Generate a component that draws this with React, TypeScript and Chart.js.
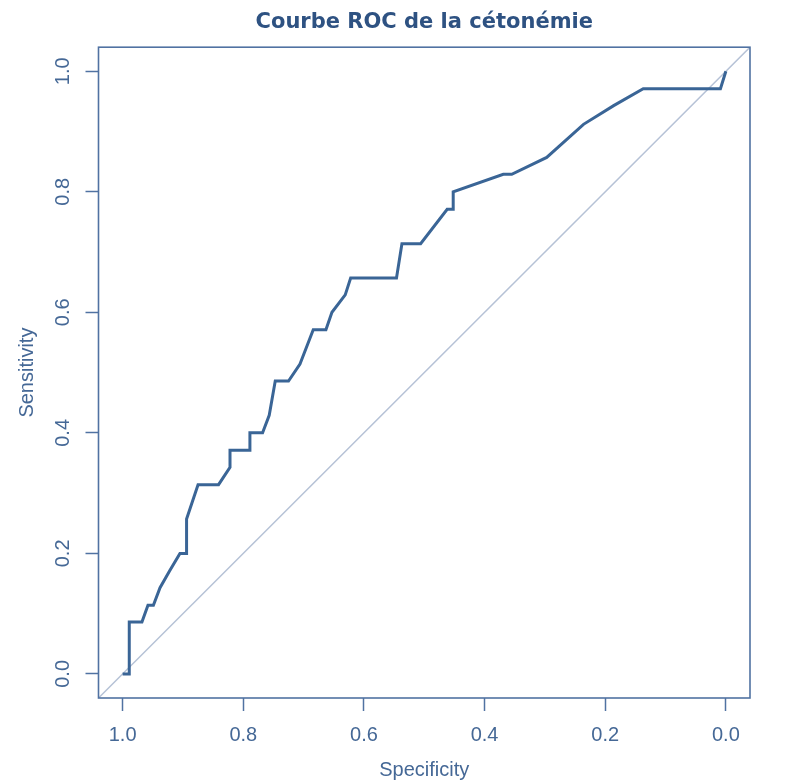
import React, { useEffect, useRef } from "react";
import { Chart, registerables } from "chart.js";

Chart.register(...registerables);

const TITLE = "Courbe ROC de la cétonémie";
const X_LABEL = "Specificity";
const Y_LABEL = "Sensitivity";
const TICKS = [0, 0.2, 0.4, 0.6, 0.8, 1.0];
const AXIS_MIN = -0.04;
const AXIS_MAX = 1.04;

const SPECIFICITY = [
  1.0, 0.989, 0.989, 0.968, 0.958, 0.949, 0.938, 0.922, 0.905, 0.894, 0.894,
  0.875, 0.841, 0.822, 0.822, 0.789, 0.789, 0.768, 0.757, 0.747, 0.725, 0.706,
  0.684, 0.663, 0.653, 0.631, 0.622, 0.546, 0.537, 0.506, 0.462, 0.452, 0.452,
  0.369, 0.355, 0.297, 0.236, 0.186, 0.137, 0.009, 0.0,
];
const SENSITIVITY = [
  0.0, 0.0, 0.086, 0.086, 0.114, 0.114, 0.143, 0.171, 0.2, 0.2, 0.257,
  0.314, 0.314, 0.343, 0.371, 0.371, 0.4, 0.4, 0.429, 0.486, 0.486, 0.514,
  0.571, 0.571, 0.6, 0.629, 0.657, 0.657, 0.714, 0.714, 0.771, 0.771, 0.8,
  0.829, 0.829, 0.857, 0.912, 0.943, 0.971, 0.971, 1.0,
];
const DIAG_SPEC = [1.1, -0.1];
const DIAG_SENS = [-0.1, 1.1];

const CURVE_COLOR = "#3a6596";
const DIAG_COLOR = "#b6c2d6";
const BOX_COLOR = "#5072a2";
const TEXT_COLOR = "#456896";
const TITLE_COLOR = "#2e5282";

const boxAndYLabels = {
  id: "boxAndYLabels",
  afterDatasetsDraw(chart: any) {
    const { ctx, chartArea } = chart;
    ctx.save();
    ctx.strokeStyle = BOX_COLOR;
    ctx.lineWidth = 1.6;
    ctx.strokeRect(
      chartArea.left,
      chartArea.top,
      chartArea.right - chartArea.left,
      chartArea.bottom - chartArea.top
    );
    ctx.restore();
  },
  afterDraw(chart: any) {
    const { ctx } = chart;
    const y = chart.scales.y;
    ctx.save();
    ctx.fillStyle = TEXT_COLOR;
    ctx.font = '20px "Liberation Sans", Arial, sans-serif';
    ctx.textAlign = "center";
    ctx.textBaseline = "middle";
    TICKS.forEach((v) => {
      const py = y.getPixelForValue(v);
      ctx.save();
      ctx.translate(63, py);
      ctx.rotate(-Math.PI / 2);
      ctx.fillText(v.toFixed(1), 0, 0);
      ctx.restore();
    });
    ctx.restore();
  },
};

export default function App() {
  const ref = useRef<HTMLCanvasElement | null>(null);
  useEffect(() => {
    if (!ref.current) return;
    const curve = SPECIFICITY.map((s, i) => ({ x: s, y: SENSITIVITY[i] }));
    const diag = DIAG_SPEC.map((s, i) => ({ x: s, y: DIAG_SENS[i] }));
    const setTicks = (scale: any) => {
      scale.ticks = TICKS.map((v) => ({ value: v }));
    };
    const chart = new Chart(ref.current, {
      type: "scatter",
      data: {
        datasets: [
          {
            data: curve,
            showLine: true,
            borderColor: CURVE_COLOR,
            borderWidth: 3,
            pointRadius: 0,
            tension: 0,
          },
          {
            data: diag,
            showLine: true,
            borderColor: DIAG_COLOR,
            borderWidth: 1.5,
            pointRadius: 0,
            tension: 0,
          },
        ],
      },
      options: {
        animation: false,
        responsive: false,
        layout: { padding: { left: 0, right: 37, top: 0, bottom: 0 } },
        plugins: {
          legend: { display: false },
          tooltip: { enabled: false },
          title: {
            display: true,
            text: TITLE,
            fullSize: false,
            color: TITLE_COLOR,
            font: { family: '"DejaVu Sans", sans-serif', size: 21, weight: "bold", lineHeight: 1.2 },
            padding: { top: 10, bottom: 12 },
          },
        },
        scales: {
          x: {
            type: "linear",
            reverse: true,
            min: AXIS_MIN,
            max: AXIS_MAX,
            afterBuildTicks: setTicks,
            afterFit: (scale: any) => {
              scale.height = 85;
            },
            border: { display: false },
            grid: {
              display: true,
              drawOnChartArea: false,
              drawTicks: true,
              tickLength: 13,
              color: BOX_COLOR,
              tickColor: BOX_COLOR,
              tickWidth: 1.5,
            },
            ticks: {
              color: TEXT_COLOR,
              padding: 12,
              maxRotation: 0,
              minRotation: 0,
              font: { family: '"Liberation Sans", Arial, sans-serif', size: 20, lineHeight: 1.2 },
              callback: (v: any) => Number(v).toFixed(1),
            },
            title: {
              display: true,
              text: X_LABEL,
              color: TEXT_COLOR,
              font: { family: '"Liberation Sans", Arial, sans-serif', size: 20, lineHeight: 1.2 },
              padding: { top: 0, bottom: 1 },
            },
          },
          y: {
            type: "linear",
            min: AXIS_MIN,
            max: AXIS_MAX,
            afterBuildTicks: setTicks,
            afterFit: (scale: any) => {
              scale.width = 98.5;
            },
            border: { display: false },
            grid: {
              display: true,
              drawOnChartArea: false,
              drawTicks: true,
              tickLength: 13,
              color: BOX_COLOR,
              tickColor: BOX_COLOR,
              tickWidth: 1.5,
            },
            ticks: { display: false },
            title: {
              display: true,
              text: Y_LABEL,
              color: TEXT_COLOR,
              font: { family: '"Liberation Sans", Arial, sans-serif', size: 20, lineHeight: 1.2 },
              padding: { top: 15, bottom: 0 },
            },
          },
        },
      },
      plugins: [boxAndYLabels],
    });
    return () => chart.destroy();
  }, []);
  return (
    <div style={{ position: "absolute", left: 0, top: 0, width: 787, height: 783, background: "#ffffff" }}>
      <canvas ref={ref} width={787} height={783} style={{ width: 787, height: 783, display: "block" }} />
    </div>
  );
}
